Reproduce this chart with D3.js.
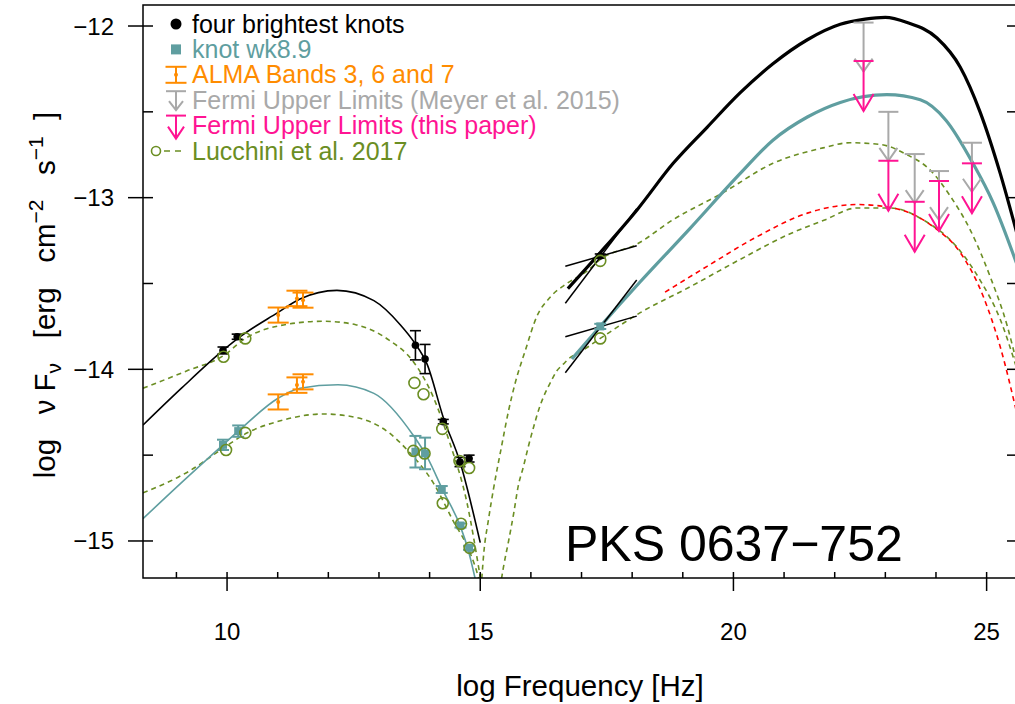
<!DOCTYPE html>
<html>
<head>
<meta charset="utf-8">
<title>PKS 0637-752 SED</title>
<script src="https://d3js.org/d3.v7.min.js"></script>
<style>
  body { margin: 0; background: #fff; }
  svg { display: block; font-family: "Liberation Sans", Arial, Helvetica, sans-serif; }
</style>
</head>
<body>
<script>
// ---- data (log nu, log nuFnu) ----
// synchrotron model curves
var blackSyncX = [8.34, 9.1, 9.92, 10.26, 11.0, 11.44, 12.17, 12.9, 13.42, 13.69, 13.95, 14.27, 14.6, 15.0];
var blackSyncY = [-14.325, -14.11, -13.89, -13.81, -13.67, -13.59, -13.54, -13.60, -13.74, -13.84, -13.97, -14.28, -14.54, -15.01];
var tealSyncX = [8.34, 9.1, 9.92, 10.26, 11.0, 11.44, 12.19, 12.9, 13.69, 13.95, 14.27, 14.6, 14.75, 14.9];
var tealSyncY = [-14.87, -14.66, -14.44, -14.35, -14.17, -14.11, -14.09, -14.14, -14.39, -14.51, -14.71, -14.91, -15.04, -15.22];

// IC/1 models (thick)
var blackICX = [16.73, 17.37, 18.10, 18.81, 19.48, 20.13, 20.78, 21.46, 22.11, 22.6, 23.0, 23.43, 24.02, 24.48, 24.87, 25.27, 25.6];
var blackICY = [-13.53, -13.32, -13.07, -12.80, -12.59, -12.39, -12.22, -12.08, -11.99, -11.96, -11.95, -11.98, -12.07, -12.24, -12.50, -12.86, -13.21];
var tealICX = [16.81, 17.37, 18.16, 19.14, 20.13, 20.78, 21.46, 22.11, 23.03, 23.69, 24.2, 24.73, 25.13, 25.6];
var tealICY = [-13.94, -13.75, -13.49, -13.18, -12.86, -12.665, -12.53, -12.445, -12.40, -12.43, -12.55, -12.80, -13.03, -13.39];

// Lucchini et al. 2017 (dashed)
var lucSyncUpX = [8.34, 9.2, 9.93, 10.36, 11.05, 11.9, 12.54, 13.2, 13.69, 14.07, 14.4, 14.74, 15.0, 15.05];
var lucSyncUpY = [-14.11, -14.01, -13.92, -13.82, -13.745, -13.72, -13.74, -13.83, -13.96, -14.16, -14.43, -14.78, -15.21, -15.3];
var lucSyncLoX = [8.34, 9.27, 9.92, 10.4, 11.05, 11.9, 12.54, 13.2, 13.59, 14.07, 14.46, 14.8, 14.96, 15.0];
var lucSyncLoY = [-14.72, -14.59, -14.46, -14.37, -14.30, -14.26, -14.28, -14.37, -14.48, -14.66, -14.88, -15.07, -15.21, -15.26];
var lucICUpX = [15.03, 15.07, 15.16, 15.26, 15.42, 15.56, 15.69, 15.89, 16.12, 16.38, 16.71, 17.1, 17.37, 18.10, 18.8, 19.8, 20.78, 21.77, 22.3, 22.9, 23.43, 23.89, 24.28, 24.68, 25.07, 25.41, 25.6];
var lucICUpY = [-15.22, -15.07, -14.88, -14.70, -14.45, -14.24, -14.08, -13.89, -13.69, -13.58, -13.50, -13.43, -13.36, -13.27, -13.13, -12.97, -12.80, -12.71, -12.68, -12.69, -12.75, -12.84, -12.99, -13.19, -13.46, -13.75, -13.97];
var lucICLoX = [15.42, 15.46, 15.56, 15.66, 15.75, 15.85, 15.95, 16.05, 16.15, 16.25, 16.38, 16.51, 16.64, 16.78, 16.91, 17.37, 18.16, 19.14, 20.13, 21.12, 21.8, 22.44, 23.1, 23.75, 24.42, 24.87, 25.27, 25.6];
var lucICLoY = [-15.22, -15.15, -15.0, -14.84, -14.68, -14.57, -14.45, -14.34, -14.24, -14.16, -14.08, -14.01, -13.97, -13.93, -13.91, -13.82, -13.67, -13.52, -13.36, -13.21, -13.13, -13.06, -13.06, -13.13, -13.29, -13.48, -13.71, -14.0];
var redX = [18.65, 19.48, 20.45, 21.46, 22.44, 23.15, 23.95, 24.48, 24.94, 25.27, 25.6];
var redY = [-13.55, -13.40, -13.23, -13.09, -13.04, -13.06, -13.17, -13.32, -13.58, -13.87, -14.26];

// Lucchini model points (open circles)
var lucUpX = [9.93, 10.36, 13.70, 13.88, 14.25, 14.59, 14.78, 17.37];
var lucUpY = [-13.927, -13.82, -14.079, -14.145, -14.347, -14.534, -14.575, -13.368];
var lucLoX = [9.98, 10.36, 13.68, 13.90, 14.26, 14.62, 14.79, 17.37];
var lucLoY = [-14.47, -14.37, -14.475, -14.49, -14.78, -14.90, -15.04, -13.82];

// four brightest knots
var knotsX = [9.92, 10.20, 13.72, 13.91, 14.27, 14.60, 14.78, 17.37];
var knotsY = [-13.89, -13.81, -13.86, -13.94, -14.305, -14.54, -14.52, -13.34];
var knotsErr = [0.02, 0.015, 0.085, 0.085, 0.013, 0.027, 0.02, 0.012];
// knot wk8.9
var wkX = [9.92, 10.22, 13.72, 13.91, 14.24, 14.61, 14.78, 17.37];
var wkY = [-14.44, -14.36, -14.48, -14.49, -14.70, -14.91, -15.04, -13.75];
var wkErr = [0.03, 0.033, 0.092, 0.092, 0.02, 0.012, 0.012, 0.015];

// ALMA bands 3, 6, 7
var almaX = [11.01, 11.38, 11.5];
var almaUpY = [-13.684, -13.587, -13.597];
var almaLoY = [-14.19, -14.092, -14.073];
var almaErr = [0.044, 0.045, 0.044];

// X-ray bowties: [x0, x1], shallow / steep ends
var bowX = [16.68, 18.09];
var bowUpShallow = [-13.40, -13.28];
var bowUpSteep = [-13.615, -13.065];
var bowLoShallow = [-13.81, -13.69];
var bowLoSteep = [-14.02, -13.48];

// Fermi upper limits
var ulX = [22.57, 23.06, 23.58, 24.06, 24.71];
var meyerUL = [-11.98, -12.50, -12.746, -12.845, -12.68];
var thisUL = [-12.204, -12.785, -13.024, -12.903, -12.80];

var xMajor = [10, 15, 20, 25];
var yMajor = [-15, -14, -13, -12];

// ---- layout ----
var width = 1015, height = 704;
var L = 143, R = 1017, T = 5, B = 578;
var FONT = 24, LEGFONT = 25, TITLE = 29.5;

var black = '#000', teal = '#5F9EA0', orange = '#FF8C00', gray = '#A9A9A9',
    pink = '#FF1493', olive = '#6B8E23', red = '#FF0000';

var x = d3.scaleLinear().domain([8.34, 25.6]).range([L, R]);
var y = d3.scaleLinear().domain([-15.2157, -11.8776]).range([B, T]);

var svg = d3.select('body').append('svg')
    .attr('width', width)
    .attr('height', height);

svg.append('defs').append('clipPath').attr('id', 'plot')
  .append('rect').attr('x', L).attr('y', T).attr('width', R - L).attr('height', B - T);

var plot = svg.append('g').attr('clip-path', 'url(#plot)');

var line = d3.line()
    .x(function(d) { return x(d[0]); })
    .y(function(d) { return y(d[1]); })
    .curve(d3.curveMonotoneX);

function curve(xs, ys, color, w, dash) {
  plot.append('path')
      .datum(d3.zip(xs, ys))
      .attr('d', line)
      .attr('fill', 'none')
      .attr('stroke', color)
      .attr('stroke-width', w)
      .attr('stroke-dasharray', dash || null);
}

// model curves
curve(lucSyncUpX, lucSyncUpY, olive, 1.6, '5,4');
curve(lucSyncLoX, lucSyncLoY, olive, 1.6, '5,4');
curve(lucICUpX, lucICUpY, olive, 1.6, '5,4');
curve(lucICLoX, lucICLoY, olive, 1.6, '5,4');
curve(redX, redY, red, 1.6, '5,4');
curve(blackSyncX, blackSyncY, black, 1.6);
curve(tealSyncX, tealSyncY, teal, 1.6);
curve(blackICX, blackICY, black, 3.2);
curve(tealICX, tealICY, teal, 3.2);

// bowties
[[bowUpShallow, bowUpSteep], [bowLoShallow, bowLoSteep]].forEach(function(b) {
  b.forEach(function(ys) {
    plot.append('line')
        .attr('x1', x(bowX[0])).attr('y1', y(ys[0]))
        .attr('x2', x(bowX[1])).attr('y2', y(ys[1]))
        .attr('stroke', black).attr('stroke-width', 1.5);
  });
});

// error bars
function errbars(xs, ys, err, color, capW, w) {
  var g = plot.append('g').attr('stroke', color).attr('stroke-width', w).attr('fill', 'none');
  xs.forEach(function(xv, i) {
    var cx = x(xv), y0 = y(ys[i] - err[i]), y1 = y(ys[i] + err[i]);
    g.append('line').attr('x1', cx).attr('x2', cx).attr('y1', y0).attr('y2', y1);
    g.append('line').attr('x1', cx - capW).attr('x2', cx + capW).attr('y1', y0).attr('y2', y0);
    g.append('line').attr('x1', cx - capW).attr('x2', cx + capW).attr('y1', y1).attr('y2', y1);
  });
}

errbars(almaX, almaUpY, almaErr, orange, 10.5, 2);
errbars(almaX, almaLoY, almaErr, orange, 10.5, 2);
almaX.forEach(function(xv, i) {
  plot.append('circle').attr('cx', x(xv)).attr('cy', y(almaUpY[i])).attr('r', 2).attr('fill', orange);
  plot.append('circle').attr('cx', x(xv)).attr('cy', y(almaLoY[i])).attr('r', 2).attr('fill', orange);
});

errbars(wkX, wkY, wkErr, teal, 6, 2);
plot.append('g').selectAll('rect').data(d3.zip(wkX, wkY)).enter().append('rect')
    .attr('x', function(d) { return x(d[0]) - 4; })
    .attr('y', function(d) { return y(d[1]) - 4; })
    .attr('width', 8).attr('height', 8)
    .attr('fill', teal);

errbars(knotsX, knotsY, knotsErr, black, 5.5, 1.6);
plot.append('g').selectAll('circle').data(d3.zip(knotsX, knotsY)).enter().append('circle')
    .attr('cx', function(d) { return x(d[0]); })
    .attr('cy', function(d) { return y(d[1]); })
    .attr('r', 3.8).attr('fill', black);

// Lucchini open circles
[[lucUpX, lucUpY], [lucLoX, lucLoY]].forEach(function(s) {
  plot.append('g').selectAll('circle').data(d3.zip(s[0], s[1])).enter().append('circle')
      .attr('cx', function(d) { return x(d[0]); })
      .attr('cy', function(d) { return y(d[1]); })
      .attr('r', 5.5).attr('fill', 'none')
      .attr('stroke', olive).attr('stroke-width', 1.6);
});

// upper limit arrows
function upperLimit(g, cx, cy, len, headW, headH) {
  g.append('line').attr('x1', cx - 10).attr('x2', cx + 10).attr('y1', cy).attr('y2', cy);
  g.append('line').attr('x1', cx).attr('x2', cx).attr('y1', cy).attr('y2', cy + len);
  g.append('polyline')
      .attr('points', [[cx - headW, cy + len - headH], [cx, cy + len], [cx + headW, cy + len - headH]].join(' '));
}
var ulG = plot.append('g').attr('stroke', gray).attr('stroke-width', 2).attr('fill', 'none');
ulX.forEach(function(xv, i) { upperLimit(ulG, x(xv), y(meyerUL[i]), 49, 9, 13); });
var ulP = plot.append('g').attr('stroke', pink).attr('stroke-width', 2).attr('fill', 'none');
ulX.forEach(function(xv, i) { upperLimit(ulP, x(xv), y(thisUL[i]), 50, 10, 17); });

// ---- axes ----
var ax = svg.append('g').attr('stroke', black).attr('stroke-width', 1.5);
ax.append('rect').attr('x', L).attr('y', T).attr('width', R - L).attr('height', B - T).attr('fill', 'none');

// x ticks
d3.range(9, 26).forEach(function(v) {
  var major = xMajor.indexOf(v) >= 0;
  ax.append('line').attr('x1', x(v)).attr('x2', x(v))
      .attr('y1', B - 6).attr('y2', major ? B + 13 : B);
});
// y ticks (left and right)
d3.range(-15, -11.9, 0.5).forEach(function(v) {
  var major = yMajor.indexOf(v) >= 0;
  ax.append('line').attr('x1', major ? L - 15 : L).attr('x2', L + 10)
      .attr('y1', y(v)).attr('y2', y(v));
  ax.append('line').attr('x1', R - 10).attr('x2', R)
      .attr('y1', y(v)).attr('y2', y(v));
});

svg.append('g').selectAll('text').data(xMajor).enter().append('text')
    .attr('x', function(d) { return x(d); })
    .attr('y', 640)
    .attr('text-anchor', 'middle')
    .attr('font-size', FONT)
    .text(function(d) { return d; });

svg.append('g').selectAll('text').data(yMajor).enter().append('text')
    .attr('x', 114)
    .attr('y', function(d) { return y(d) + 8.5; })
    .attr('text-anchor', 'end')
    .attr('font-size', FONT)
    .text(function(d) { return '\u2212' + Math.abs(d); });

// axis titles
svg.append('text')
    .attr('x', 580).attr('y', 696)
    .attr('text-anchor', 'middle')
    .attr('font-size', TITLE)
    .text('log Frequency [Hz]');

var yt = svg.append('text')
    .attr('transform', 'translate(55,295) rotate(-90)')
    .attr('text-anchor', 'middle')
    .attr('font-size', TITLE)
    .attr('xml:space', 'preserve');
yt.append('tspan').text('log   \u03bd F');
yt.append('tspan').attr('font-size', 21).attr('dy', 6).text('\u03bd');
yt.append('tspan').attr('dy', -6).text('   [erg   cm');
yt.append('tspan').attr('font-size', 21).attr('dy', -12).text('\u22122');
yt.append('tspan').attr('dy', 12).text('   s');
yt.append('tspan').attr('font-size', 21).attr('dy', -12).text('\u22121');
yt.append('tspan').attr('dy', 12).text('  ]');

// source name
svg.append('text')
    .attr('x', 565).attr('y', 561)
    .attr('font-size', 50)
    .text('PKS 0637\u2212752');

// ---- legend ----
var legendLabels = ['four brightest knots', 'knot wk8.9', 'ALMA Bands 3, 6 and 7',
  'Fermi Upper Limits (Meyer et al. 2015)', 'Fermi Upper Limits (this paper)', 'Lucchini et al. 2017'];
var legendColors = [black, teal, orange, gray, pink, olive];
var lg = svg.append('g');
var base0 = 32.5, step = 25.4, sx = 176;
legendLabels.forEach(function(t, i) {
  lg.append('text')
      .attr('x', 192).attr('y', base0 + i * step)
      .attr('font-size', LEGFONT)
      .attr('fill', legendColors[i])
      .text(t);
});
var cy = function(i) { return base0 + i * step - 8.5; };
lg.append('circle').attr('cx', sx).attr('cy', cy(0)).attr('r', 5.5).attr('fill', black);
lg.append('rect').attr('x', sx - 5).attr('y', cy(1) - 5).attr('width', 10).attr('height', 10).attr('fill', teal);
var la = lg.append('g').attr('stroke', orange).attr('stroke-width', 2);
la.append('line').attr('x1', sx - 10.5).attr('x2', sx + 10.5).attr('y1', cy(2) - 8).attr('y2', cy(2) - 8);
la.append('line').attr('x1', sx - 10.5).attr('x2', sx + 10.5).attr('y1', cy(2) + 8).attr('y2', cy(2) + 8);
la.append('line').attr('x1', sx).attr('x2', sx).attr('y1', cy(2) - 8).attr('y2', cy(2) + 8);
lg.append('circle').attr('cx', sx).attr('cy', cy(2)).attr('r', 2).attr('fill', orange);
var lgG = lg.append('g').attr('stroke', gray).attr('stroke-width', 2).attr('fill', 'none');
upperLimit(lgG, sx, cy(3) - 9, 19, 7, 9);
var lgP = lg.append('g').attr('stroke', pink).attr('stroke-width', 2).attr('fill', 'none');
upperLimit(lgP, sx, cy(4) - 10, 23, 8, 12);
lg.append('circle').attr('cx', 156).attr('cy', cy(5)).attr('r', 4.5)
    .attr('fill', 'none').attr('stroke', olive).attr('stroke-width', 1.6);
lg.append('line').attr('x1', 164).attr('x2', 186).attr('y1', cy(5)).attr('y2', cy(5))
    .attr('stroke', olive).attr('stroke-width', 1.6).attr('stroke-dasharray', '6,5');
</script>
</body>
</html>
